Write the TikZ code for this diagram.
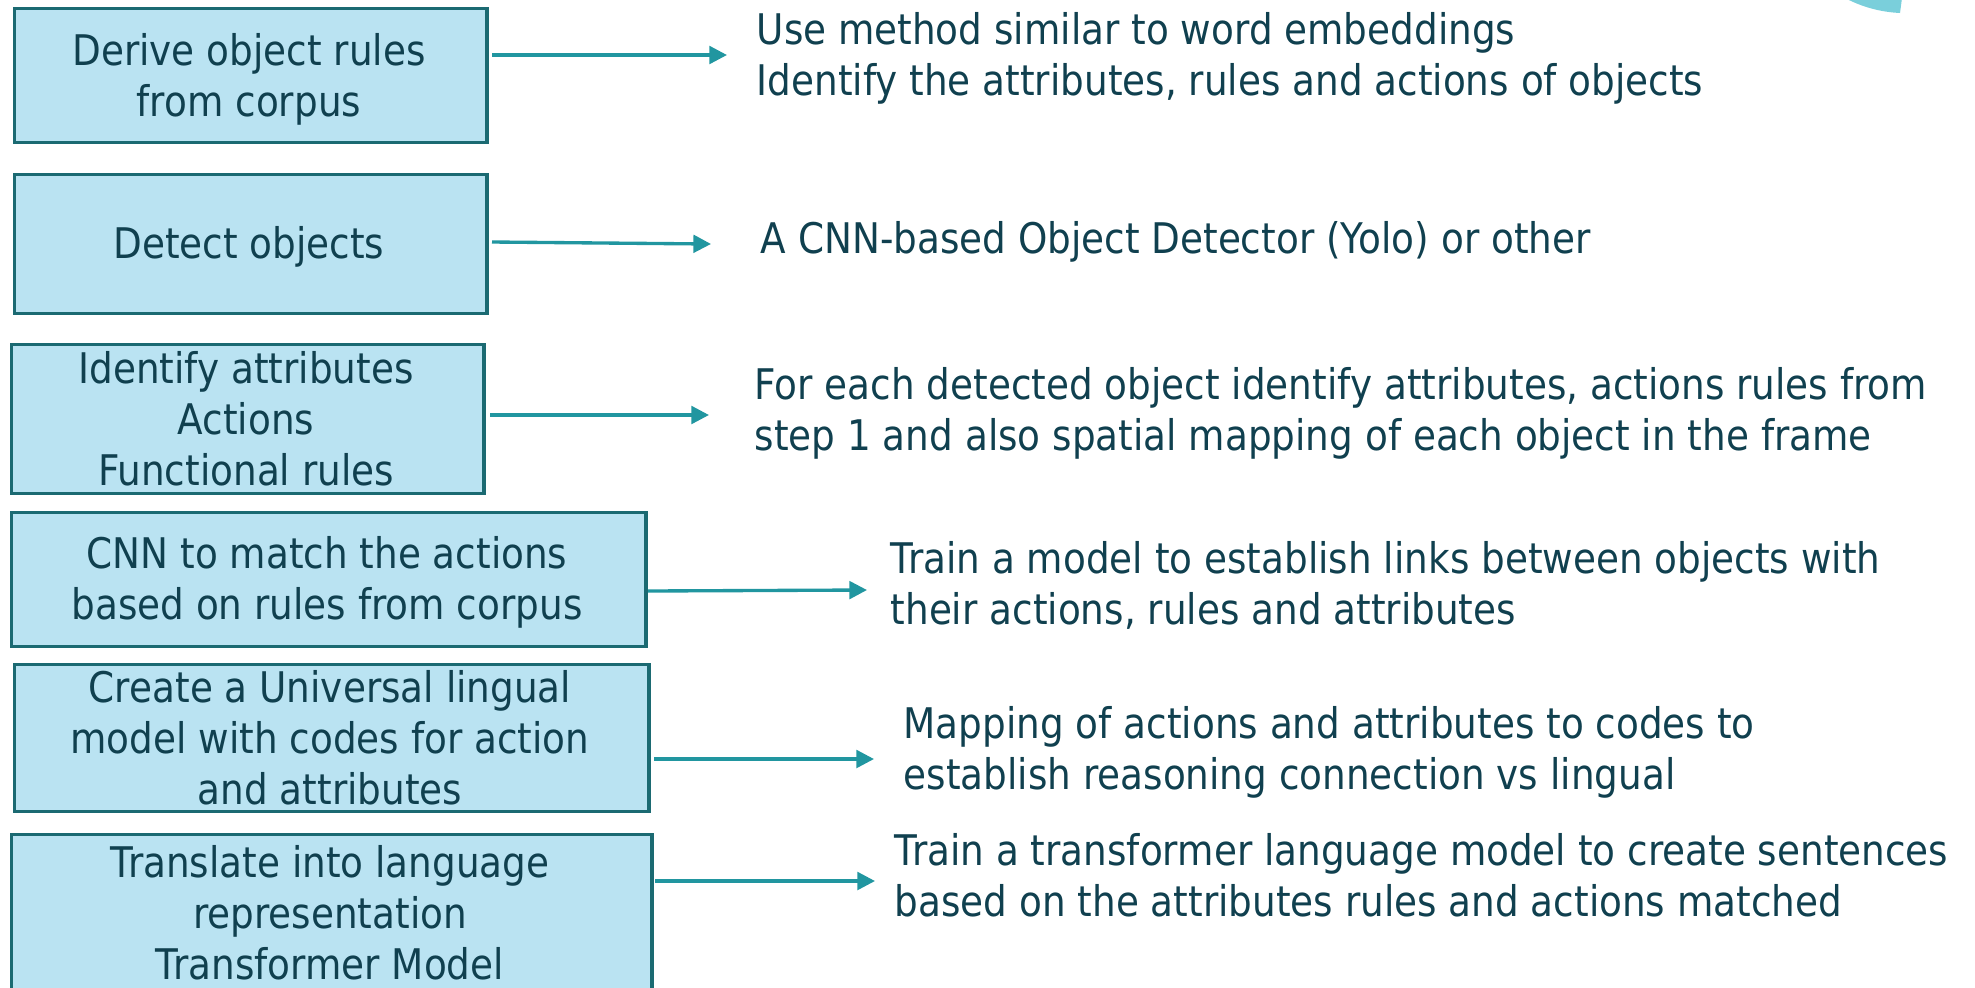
\documentclass[tikz,border=0pt]{standalone}
\usepackage{fontspec}
\setmainfont[FakeStretch=0.885]{DejaVu Sans}
\usetikzlibrary{arrows.meta}
\definecolor{boxfill}{HTML}{BAE3F2}
\definecolor{boxdraw}{HTML}{1B6A72}
\definecolor{txt}{HTML}{10404F}
\definecolor{arrowc}{HTML}{2196A0}
\definecolor{arcc}{HTML}{7ACFDB}
\begin{document}
\begin{tikzpicture}[x=0.01cm,y=-0.01cm,
  stepbox/.style={draw=boxdraw, line width=0.95pt, fill=boxfill, inner sep=0pt, anchor=north west},
  boxtext/.style={text=txt, font=\fontsize{12pt}{14.5pt}\selectfont, align=center, inner sep=0pt, anchor=north},
  desc/.style={text=txt, font=\fontsize{12pt}{14.4pt}\selectfont, align=left, inner sep=0pt, anchor=north west},
  conn/.style={draw=arrowc, line width=0.95pt, -{Triangle[length=5pt,width=5pt]}}]
\useasboundingbox (0,0) rectangle (1975,987);
\fill[arcc] (1845,-2) .. controls (1862,7) and (1880,12) .. (1900,13) -- (1902,-2) -- cycle;

% boxes
\node[stepbox, minimum width=4.72cm, minimum height=1.34cm] (b1) at (13,7) {};
\node[stepbox, minimum width=4.72cm, minimum height=1.39cm] (b2) at (13,173) {};
\node[stepbox, minimum width=4.72cm, minimum height=1.49cm] (b3) at (10,343) {};
\node[stepbox, minimum width=6.34cm, minimum height=1.34cm] (b4) at (10,511) {};
\node[stepbox, minimum width=6.34cm, minimum height=1.47cm] (b5) at (13,663) {};
\node[stepbox, minimum width=6.40cm, minimum height=1.60cm] (b6) at (10,833) {};

% box texts
\node[boxtext] (l1) at (249,33) {Derive object rules\\from corpus};
\node[boxtext] (l2) at (249,226) {Detect objects};
\node[boxtext] (l3) at (246,351) {Identify attributes\\Actions\\Functional rules};
\node[boxtext] (l4) at (327,536) {CNN to match the actions\\based on rules from corpus};
\node[boxtext] (l5) at (330,670) {Create a Universal lingual\\model with codes for action\\and attributes};
\node[boxtext] (l6) at (330,845) {Translate into language\\representation\\Transformer Model};

% descriptions
\node[desc] (t1) at (756,12) {Use method similar to word embeddings\\Identify the attributes, rules and actions of objects};
\node[desc] (t2) at (760,221) {A CNN-based Object Detector (Yolo) or other};
\node[desc] (t3) at (754,367) {For each detected object identify attributes, actions rules from\\step 1 and also spatial mapping of each object in the frame};
\node[desc] (t4) at (890,541) {Train a model to establish links between objects with\\their actions, rules and attributes};
\node[desc] (t5) at (903,706) {Mapping of actions and attributes to codes to\\establish reasoning connection vs lingual};
\node[desc] (t6) at (894,833) {Train a transformer language model to create sentences\\based on the attributes rules and actions matched};

% connector ends
\coordinate (s1) at (492,55);  \coordinate (e1) at (727,55);
\coordinate (s2) at (492,242); \coordinate (e2) at (711,244);
\coordinate (s3) at (490,415); \coordinate (e3) at (709,415);
\coordinate (s4) at (648,591); \coordinate (e4) at (867,590);
\coordinate (s5) at (654,759); \coordinate (e5) at (874,759);
\coordinate (s6) at (655,881); \coordinate (e6) at (875,881);
\foreach \i in {1,...,6} { \draw[conn] (s\i) -- (e\i); }
\end{tikzpicture}
\end{document}
